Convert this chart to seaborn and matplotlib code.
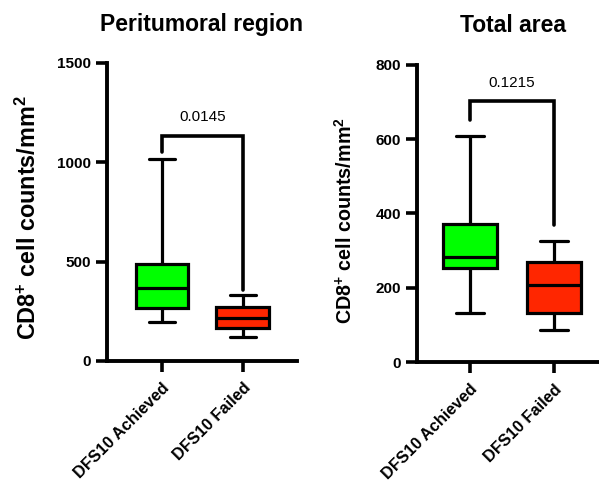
import numpy as np
import pandas as pd
import matplotlib.pyplot as plt
import seaborn as sns

# Configurações
sns.set_theme(style="ticks")
plt.rcParams['font.family'] = ['Liberation Sans', 'DejaVu Sans']
plt.rcParams['mathtext.fontset'] = 'custom'
plt.rcParams['mathtext.rm'] = 'Liberation Sans'
plt.rcParams['mathtext.bf'] = 'Liberation Sans:bold'
for k in ['text.color', 'axes.labelcolor', 'xtick.color', 'ytick.color']:
    plt.rcParams[k] = 'black'

# Dados (resumo de cinco números: min, Q1, mediana, Q3, max)
grupos = ["DFS10 Achieved", "DFS10 Failed"]
cores = ["#00FF00", "#FF2600"]

peri_achieved = [197, 268, 368, 487, 1018]
peri_failed = [119, 164, 214, 271, 334]
total_achieved = [133, 254, 282, 371, 608]
total_failed = [86, 131, 208, 269, 325]

# barra de significância: perna esquerda, topo, perna direita
peri_bracket = [1050, 1132, 356]
total_bracket = [651, 703, 369]
peri_p = "0.0145"
total_p = "0.1215"

ylabel = r'CD8$^{\mathbf{+}}$ cell counts/mm$^{\mathbf{2}}$'


def painel(ax, achieved, failed, titulo, ymax, yticks, bracket, p_txt, p_y,
           xlim, label_fs, label_x, label_y, title_pad, title_x):
    df = pd.DataFrame({
        "grupo": [grupos[0]] * len(achieved) + [grupos[1]] * len(failed),
        "valor": achieved + failed,
    })
    sns.boxplot(data=df, x="grupo", y="valor", hue="grupo", order=grupos,
                hue_order=grupos, palette=cores, saturation=1, whis=(0, 100),
                width=0.65, linewidth=2.3, linecolor="black", legend=False, ax=ax)

    # barra + p-valor
    ax.plot([0, 0, 1, 1], [bracket[0], bracket[1], bracket[1], bracket[2]],
            color="black", lw=2.6, solid_joinstyle="miter", clip_on=False)
    ax.text(0.5, p_y, p_txt, ha="center", va="center", fontsize=11)

    ax.set_xlim(xlim)
    ax.set_ylim(0, ymax)
    ax.set_yticks(yticks)
    ax.set_xticks([0, 1])
    ax.set_xticklabels(grupos, rotation=45, ha="right", va="top",
                       rotation_mode="anchor", fontweight="bold", fontsize=11.8)
    for lbl in ax.get_yticklabels():
        lbl.set_fontweight("bold")
    ax.tick_params(axis="both", width=2.6, length=8, labelsize=11, pad=3.5,
                   color="black")
    ax.tick_params(axis="x", labelsize=11.8, pad=6)
    sns.despine(ax=ax)
    for s in ["left", "bottom"]:
        ax.spines[s].set_linewidth(2.8)
        ax.spines[s].set_color("black")
    ax.set_xlabel("")
    ax.set_ylabel(ylabel, fontsize=label_fs, fontweight="bold")
    ax.yaxis.set_label_coords(label_x, label_y)
    ax.set_title(titulo, fontsize=16.5, fontweight="bold", pad=title_pad, x=title_x)


fig = plt.figure(figsize=(5.99, 4.83), dpi=100)
ax1 = fig.add_axes([0.1786, 0.2526, 0.317, 0.617])
ax2 = fig.add_axes([0.696, 0.2505, 0.302, 0.615])

painel(ax1, peri_achieved, peri_failed, "Peritumoral region", 1500,
       [0, 500, 1000, 1500], peri_bracket, peri_p, 1230,
       (-0.68, 1.67), 16.8, -0.35, 0.48, 23, 0.5)
painel(ax2, total_achieved, total_failed, "Total area", 800,
       [0, 200, 400, 600, 800], total_bracket, total_p, 752,
       (-0.63, 1.52), 14.2, -0.34, 0.475, 24, 0.53)

fig.savefig("out.png", dpi=100)
plt.close(fig)
